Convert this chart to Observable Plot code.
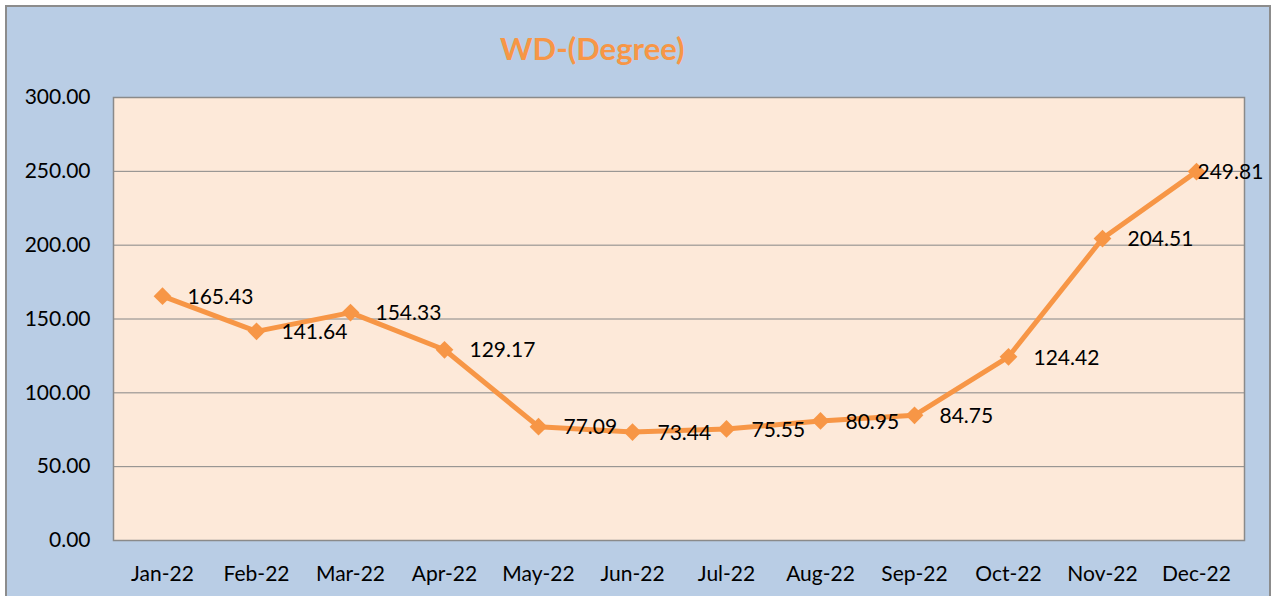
<!DOCTYPE html>
<html><head><meta charset="utf-8">
<script src="https://cdn.jsdelivr.net/npm/d3@7"></script>
<script src="https://cdn.jsdelivr.net/npm/@observablehq/plot@0.6"></script>
<style>
html,body{margin:0;padding:0;background:#fff;width:1277px;height:596px;overflow:hidden;font-family:Lato, sans-serif}
#frame{position:absolute;left:5px;top:5px;width:1262px;height:600px;border:2px solid #8c8c8c;background:#b9cde5}
#title{position:absolute;left:493px;top:23px;font:bold 31px Lato, sans-serif;color:#f79646;line-height:1.2;white-space:nowrap}
#chart{position:absolute;left:0;top:75px}
</style>
</head><body>
<div id="frame"><div id="title">WD-(Degree)</div><div id="chart"></div></div>
<script>
const months = ["Jan-22","Feb-22","Mar-22","Apr-22","May-22","Jun-22","Jul-22","Aug-22","Sep-22","Oct-22","Nov-22","Dec-22"];
const values = [165.43,141.64,154.33,129.17,77.09,73.44,75.55,80.95,84.75,124.42,204.51,249.81];
const yTicks = [0,50,100,150,200,250,300];
const gridLines = [50,100,150,200,250];

const data = months.map((m,i)=>({month:m, value:values[i]}));
const lastMonth = months[months.length-1];

const chart = Plot.plot({
  width: 1262,
  height: 514,
  marginLeft: 106,
  marginRight: 25,
  marginTop: 15,
  marginBottom: 56,
  style: {background:"transparent", fontFamily:"Lato, sans-serif", fontSize:"21px", color:"#000"},
  x: {type:"point", domain: months, padding:0.5, label:null, tickSize:0, tickPadding:26},
  y: {domain:[0,300], ticks: yTicks, tickFormat: d=>d.toFixed(2), label:null, tickSize:0, tickPadding:23},
  marks: [
    Plot.frame({fill:"#fde9d9", stroke:null}),
    Plot.ruleY(gridLines, {stroke:"#868686", strokeWidth:1}),
    Plot.frame({stroke:"#8a8a8a", strokeWidth:1.5}),
    Plot.lineY(data, {x:"month", y:"value", stroke:"#f79646", strokeWidth:5}),
    Plot.dot(data, {x:"month", y:"value", symbol:"diamond2", r:8, fill:"#f79646", stroke:null}),
    Plot.text(data.filter(d=>d.month!==lastMonth), {x:"month", y:"value", text:d=>d.value.toFixed(2), textAnchor:"start", dx:25, dy:1, fontSize:21, fill:"#000"}),
    Plot.text(data.filter(d=>d.month===lastMonth), {x:"month", y:"value", text:d=>d.value.toFixed(2), textAnchor:"start", dx:1, dy:1, fontSize:21, fill:"#000"})
  ]
});
document.getElementById("chart").appendChild(chart);
</script>
</body></html>
